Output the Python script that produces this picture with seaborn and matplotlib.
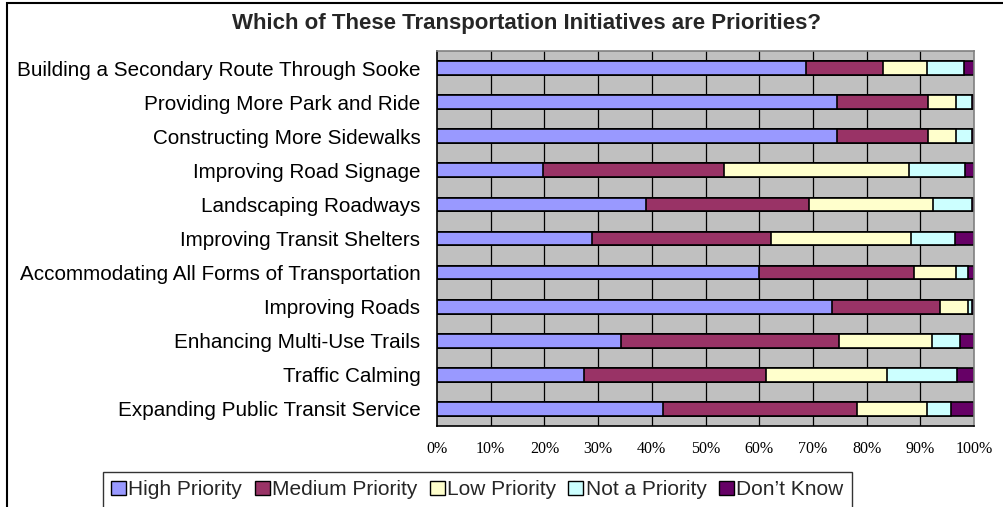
import matplotlib
matplotlib.use("Agg")
import matplotlib.pyplot as plt
import seaborn as sns
import pandas as pd
import numpy as np
from matplotlib.patches import Patch, Rectangle

categories = [
    "Building a Secondary Route Through Sooke",
    "Providing More Park and Ride",
    "Constructing More Sidewalks",
    "Improving Road Signage",
    "Landscaping Roadways",
    "Improving Transit Shelters",
    "Accommodating All Forms of Transportation",
    "Improving Roads",
    "Enhancing Multi-Use Trails",
    "Traffic Calming",
    "Expanding Public Transit Service",
]
series_names = ["High Priority", "Medium Priority", "Low Priority", "Not a Priority", "Don\u2019t Know"]
high   = [68.8, 74.5, 74.5, 19.7, 39.0, 28.9, 60.0, 73.6, 34.3, 27.4, 42.1]
medium = [14.3, 17.0, 17.0, 33.8, 30.3, 33.3, 28.9, 20.0, 40.5, 33.9, 36.2]
low    = [ 8.2,  5.2,  5.2, 34.4, 23.1, 26.0,  7.8,  5.3, 17.4, 22.5, 13.0]
notp   = [ 6.9,  3.0,  3.0, 10.5,  7.3,  8.2,  2.2,  0.8,  5.1, 13.1,  4.4]
dk     = [ 1.8,  0.3,  0.3,  1.6,  0.3,  3.6,  1.1,  0.3,  2.7,  3.1,  4.3]
colors = ["#9999FF", "#993366", "#FFFFCC", "#CCFFFF", "#660066"]
xtick_labels = ["0%", "10%", "20%", "30%", "40%", "50%", "60%", "70%", "80%", "90%", "100%"]

sns.set_style("white")
plt.rcParams["font.family"] = ["Liberation Sans", "DejaVu Sans"]

df = pd.DataFrame({"category": categories})
vals = [high, medium, low, notp, dk]
cum = np.cumsum(np.array(vals), axis=0)
for i, name in enumerate(series_names):
    df[name] = cum[i]

W, H = 1004, 507
fig = plt.figure(figsize=(W / 100, H / 100), dpi=100)
ax = fig.add_axes([437 / W, 1 - 426 / H, (974 - 437) / W, (426 - 51) / H])
ax.set_facecolor("#C0C0C0")

for x in range(10, 100, 10):
    ax.axvline(x, color="black", lw=0.9, zorder=0.5)

for i in range(len(series_names) - 1, -1, -1):
    sns.barplot(data=df, x=series_names[i], y="category", orient="h", color=colors[i],
                edgecolor="black", linewidth=1.2, width=0.4, ax=ax, zorder=2 + (4 - i) * 0.01,
                saturation=1)

ax.set_xlim(0, 100)
ax.set_ylim(len(categories) - 0.5, -0.5)
ax.set_xlabel("")
ax.set_ylabel("")
ax.set_xticks(range(0, 101, 10))
ax.set_xticklabels(xtick_labels, fontfamily="Liberation Serif", fontsize=11.5)
ax.tick_params(axis="x", direction="out", length=5, width=1, color="black", pad=6)
ax.tick_params(axis="y", which="major", length=0, pad=12, labelsize=14.9)
ax.set_yticks(np.arange(-0.5, len(categories), 1.0), minor=True)
ax.tick_params(axis="y", which="minor", direction="out", length=5, width=1, color="black")
ax.tick_params(axis="both", colors="black")

for s in ["left", "bottom"]:
    ax.spines[s].set_color("black")
    ax.spines[s].set_linewidth(1.2)
for s in ["top", "right"]:
    ax.spines[s].set_color("#808080")
    ax.spines[s].set_linewidth(1.2)
    ax.spines[s].set_visible(True)

fig.text(527 / W, 1 - 23 / H, "Which of These Transportation Initiatives are Priorities?",
         ha="center", va="center", fontsize=16, fontweight="bold")

handles = [Patch(facecolor=c, edgecolor="black", linewidth=1) for c in colors]
leg = fig.legend(handles, series_names, loc="upper left", bbox_to_anchor=(103 / W, 1 - 472 / H),
                 ncol=5, frameon=True, fontsize=15, handlelength=0.72, handleheight=0.72,
                 handletextpad=0.1, columnspacing=0.6, borderpad=0.4, borderaxespad=0,
                 fancybox=False)
leg.get_frame().set_edgecolor("black")
leg.get_frame().set_linewidth(1)

fig.add_artist(Rectangle((7 / W, -0.5), 2, 0.5 + 1 - 3 / H, transform=fig.transFigure,
                         fill=False, edgecolor="black", linewidth=1.5))

fig.savefig("out.png", dpi=100)
